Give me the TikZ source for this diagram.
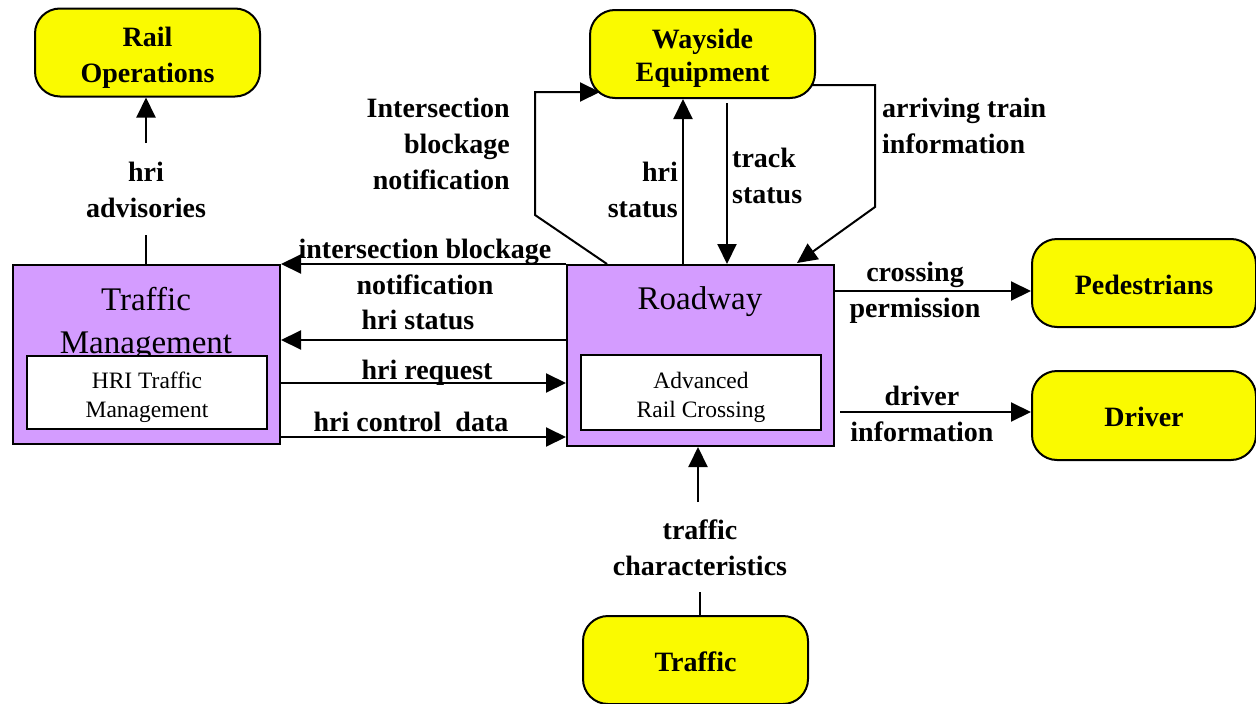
\documentclass[tikz,border=0pt]{standalone}
\usepackage{fontspec}
\setmainfont{Liberation Serif}
\usetikzlibrary{arrows.meta}
\definecolor{ylw}{RGB}{250,250,0}
\definecolor{lav}{RGB}{212,156,255}
\begin{document}
\begin{tikzpicture}[x=1pt,y=-1pt,
  ext/.style={draw, line width=2pt, fill=ylw, rounded corners=25pt, minimum width=225pt, minimum height=88pt, inner sep=0pt},
  extt/.style={inner sep=0pt, align=center, font=\fontsize{28}{36}\selectfont\bfseries},
  sys/.style={draw, line width=2pt, fill=lav, inner sep=0pt},
  sub/.style={draw, line width=2pt, fill=white, inner sep=0pt},
  subt/.style={inner sep=0pt, align=center, font=\fontsize{23.5}{29}\selectfont},
  ttl/.style={inner sep=0pt, align=center, font=\fontsize{33}{43}\selectfont},
  lbl/.style={inner sep=0pt, font=\fontsize{28}{36}\selectfont\bfseries},
  flow/.style={line width=2pt, -{Triangle[length=20pt,width=19pt]}},
  seg/.style={line width=2pt}
]
\useasboundingbox (0,0) rectangle (1256,704);

% external terminators
\node[ext] (railops) at (147.5,52.5) {};
\node[extt] (railopst) at (147.5,58) {Rail\\Operations};
\node[ext] (wayside) at (702.5,54) {};
\node[extt, font=\fontsize{28}{33}\selectfont\bfseries] (waysidet) at (702.5,58.5) {Wayside\\Equipment};
\node[ext, minimum width=224pt] (peds) at (1144,283) {};
\node[extt] (pedst) at (1144,285) {Pedestrians};
\node[ext, minimum width=224pt, minimum height=89pt] (driver) at (1144,415.5) {};
\node[extt] (drivert) at (1144,417) {Driver};
\node[ext] (traffic) at (695.5,660) {};
\node[extt] (traffict) at (695.5,662) {Traffic};

% subsystems
\node[sys, minimum width=267pt, minimum height=179pt] (tm) at (146.5,354.5) {};
\node[ttl] (tmt) at (146,323.5) {Traffic\\Management};
\node[sub, minimum width=240pt, minimum height=73pt] (tmi) at (147,392.5) {};
\node[subt] (tmit) at (147,397.5) {HRI Traffic\\Management};

\node[sys, minimum width=267pt, minimum height=181pt] (road) at (700.5,355.5) {};
\node[ttl] (roadt) at (700,302) {Roadway};
\node[sub, minimum width=240pt, minimum height=75pt] (roadi) at (701,392.5) {};
\node[subt] (roadit) at (701,397) {Advanced\\Rail Crossing};

% hri advisories
\coordinate (adv1) at (146,235);
\coordinate (adv2) at (146,143);
\draw[seg] (tm.north -| adv1) -- (adv1);
\draw[flow] (adv2) -- (railops.south -| adv2);
\node[lbl, align=center] (advl) at (146,190) {hri\\advisories};

% Intersection blockage notification to wayside
\coordinate (ib0) at (607,0);
\coordinate (ib1) at (535,215);
\coordinate (ib2) at (535,92);
\coordinate (ib3) at (600,92);
\draw[flow] (road.north -| ib0) -- (ib1) -- (ib2) -- (ib3);
\node[lbl, align=right, anchor=east] (ibwl) at (510,144) {Intersection\\blockage\\notification};

% hri status to wayside
\coordinate (hs) at (683,0);
\draw[flow] (road.north -| hs) -- (wayside.south -| hs);
\node[lbl, align=right, anchor=east] (hsl) at (678,190) {hri\\status};

% track status
\coordinate (ts) at (727,103);
\draw[flow] (ts) -- (road.north -| ts);
\node[lbl, align=left, anchor=west] (tsl) at (732,176) {track\\status};

% arriving train information
\coordinate (at0) at (812,85);
\coordinate (at1) at (875,85);
\coordinate (at2) at (875,207);
\coordinate (at3) at (797,263);
\draw[flow] (at0) -- (at1) -- (at2) -- (at3);
\node[lbl, align=left, anchor=west] (atl) at (882,126) {arriving train\\information};

% flows between roadway and traffic management
\draw[flow] (road.north west) -- (tm.north east);
\node[lbl, align=center] (ibl) at (425,267) {intersection blockage\\notification};

\coordinate (y340) at (0,340);
\draw[flow] (road.west |- y340) -- (tm.east |- y340);
\node[lbl] (hsl2) at (418,320) {hri status};

\coordinate (y383) at (0,383);
\draw[flow] (tm.east |- y383) -- (road.west |- y383);
\node[lbl] (hrl) at (427,373) {hri request};

\coordinate (y437) at (0,437);
\draw[flow] (tm.east |- y437) -- (road.west |- y437);
\node[lbl] (hcl) at (411,422) {hri control\ \ data};

% crossing permission
\coordinate (y291) at (0,291);
\draw[flow] (road.east |- y291) -- (peds.west |- y291);
\node[lbl, align=center] (cpl) at (915,293) {crossing\\permission};

% driver information
\coordinate (di0) at (840,412);
\draw[flow] (di0) -- (driver.west |- di0);
\node[lbl, align=center] (dil) at (922,414) {driver\\information};

% traffic characteristics
\coordinate (tc1) at (700,592);
\coordinate (tc2) at (698,502);
\draw[seg] (traffic.north -| tc1) -- (tc1);
\draw[flow] (tc2) -- (road.south -| tc2);
\node[lbl, align=center] (tcl) at (700,548) {traffic\\characteristics};
\end{tikzpicture}
\end{document}
